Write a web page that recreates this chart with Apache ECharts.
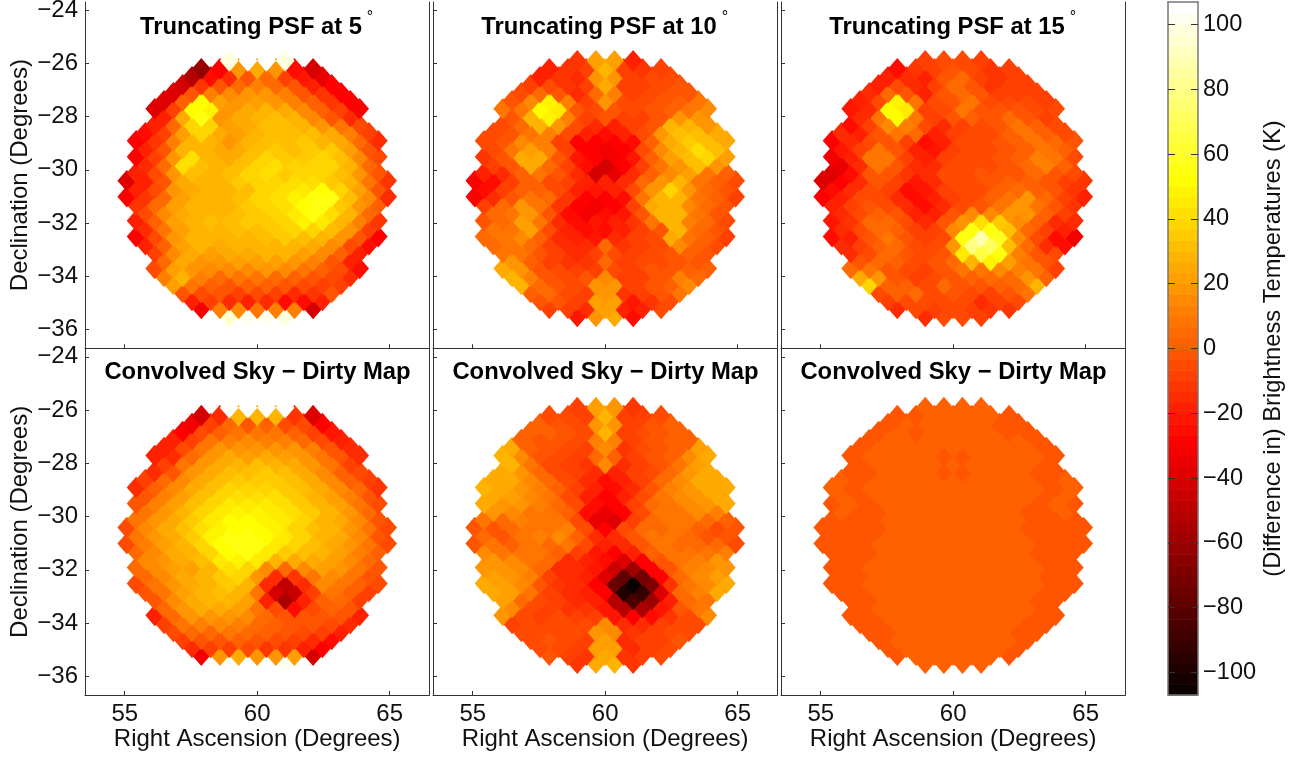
<!DOCTYPE html>
<html><head><meta charset="utf-8">
<style>html,body{margin:0;padding:0;background:#fff}#c{width:1306px;height:758px}</style>
<script src="https://cdn.jsdelivr.net/npm/echarts@6/dist/echarts.min.js"></script></head>
<body><div id="c"></div>
<script>
const ringDec=[-25.91,-26.21,-26.51,-26.81,-27.11,-27.41,-27.71,-28.01,-28.31,-28.61,-28.91,-29.21,-29.51,-29.81,-30.11,-30.41,-30.71,-31.01,-31.31,-31.61,-31.91,-32.21,-32.51,-32.81,-33.11,-33.41,-33.71,-34.01,-34.31,-34.61,-34.91,-35.21,-35.51];
const raCentre=60, raHalfStep=0.3516;
const xTicks=[55,60,65];
const yTicks=[-36,-34,-32,-30,-28,-26,-24];
const cbTicks=[-100,-80,-60,-40,-20,0,20,40,60,80,100];
const titles=['Truncating PSF at 5','Truncating PSF at 10','Truncating PSF at 15','Convolved Sky \u2212 Dirty Map','Convolved Sky \u2212 Dirty Map','Convolved Sky \u2212 Dirty Map'];
const trunc5=[
[98,106,106,97],
[-62,-28,18,25,18,-25,-42],
[-52,-25,-15,0,4,-8,-22,-34],
[-42,-12,-3,5,12,6,-3,-17,-29],
[-40,-3,12,15,17,18,12,0,-12,-28],
[-38,2,52,22,18,23,20,12,1,-12,-27],
[-38,-8,52,48,20,26,27,24,15,3,-10,-28],
[-18,24,56,20,26,30,31,27,15,0,-15],
[-20,6,37,40,22,26,32,31,28,18,7,-5],
[-24,-8,23,38,26,22,28,33,33,31,25,12,-8],
[-30,-12,12,28,28,20,28,32,33,34,30,24,6,-14],
[-18,-2,30,30,24,26,33,35,33,36,34,22,-2],
[-30,-10,19,42,30,26,31,38,35,35,38,31,14,-6],
[-14,6,42,32,30,33,39,41,37,39,37,27,5],
[-20,-6,18,31,30,32,38,42,35,37,39,31,17,-3],
[-38,-18,0,24,29,29,34,39,39,41,43,36,27,8,-12],
[-20,-4,17,26,30,30,33,38,41,46,51,37,22,0],
[-28,-13,6,23,29,30,32,38,41,47,54,54,32,16,-14],
[-13,5,23,28,28,30,34,38,42,52,55,35,20,1],
[-5,14,26,28,30,32,34,39,46,54,43,28,6],
[-18,1,23,28,33,32,34,35,40,48,45,30,12,-12],
[-14,8,23,30,30,32,32,34,39,40,32,18,-7],
[-27,-4,17,28,30,29,30,33,34,33,29,17,-3,-30],
[-20,1,22,27,26,28,30,30,30,26,16,-4,-26],
[-8,14,24,22,24,26,28,28,22,16,3,-18],
[5,24,20,20,22,23,22,18,12,0,-18],
[-5,22,20,15,15,16,17,14,8,3,-4,-26],
[13,27,12,6,10,10,6,3,0,-5,-14],
[22,8,1,-1,3,3,-3,-6,-8,-10],
[0,-6,-3,-8,-6,-8,-15,-13,-3],
[-18,-8,-15,-17,-14,-25,-24,-20],
[-32,12,16,10,13,12,-42],
[96,103,101,97]];
const trunc10=[
[-13,22,22,-18],
[-18,-12,-8,28,-8,-12,-7],
[-17,-13,-16,19,20,-8,-6,-6],
[-8,-6,-12,-10,26,-10,-8,-6,-3],
[-4,5,0,-15,5,12,-8,-5,-3,0],
[0,15,50,12,-8,17,-6,-6,-2,2,10],
[8,9,53,45,-2,-4,-3,-6,-3,2,10,15],
[-2,28,48,12,-9,-3,-9,-8,-2,20,20],
[-5,5,27,18,-5,-15,-17,-10,0,28,28,17],
[-6,0,8,12,-5,-20,-25,-20,-5,20,33,31,25],
[-6,-1,14,11,-8,-28,-30,-30,-25,3,26,36,33,25],
[-4,7,23,11,-10,-28,-33,-28,-5,14,28,42,31],
[-12,-3,26,26,0,-22,-30,-33,-22,2,22,33,40,23],
[-10,0,26,5,-8,-25,-42,-28,-8,10,20,33,20],
[-20,-14,3,8,-2,-15,-42,-36,-15,3,14,22,7,2],
[-29,-24,-10,2,-5,-10,-20,-20,-14,4,18,28,10,3,-5],
[-24,-10,1,3,-6,-18,-22,-17,-5,20,38,20,5,0],
[-28,-15,-1,7,4,-12,-27,-27,-24,10,28,28,8,2,-10],
[-8,6,17,10,-12,-28,-32,-27,-10,26,30,16,6,-3],
[5,10,20,0,-26,-32,-26,-23,0,28,30,10,-2],
[0,6,21,10,-16,-26,-23,-20,-12,10,30,12,5,-4],
[8,10,22,-4,-20,-26,-24,-17,-9,-1,28,5,-3],
[4,9,16,1,-15,-20,-22,-15,-10,-5,25,9,1,-8],
[5,10,5,-7,-15,-15,5,-12,-8,-4,14,2,-6],
[10,8,-2,-10,-15,-8,-5,-10,-6,-2,3,-3],
[20,2,-8,-12,-12,5,-10,-6,-4,0,-1],
[26,20,-3,-6,-8,-10,-6,-8,-3,0,1,2],
[28,13,-2,-6,-3,15,-8,-8,-3,12,5],
[30,4,-2,-5,17,20,-8,-3,3,14],
[3,6,-6,-7,20,-12,-10,-2,9],
[0,-3,-8,22,22,-23,-12,-5],
[-8,-8,-14,23,-18,-20,-5],
[-22,20,26,-24]];
const trunc15=[
[-8,-5,-5,-10],
[-24,-12,-10,-1,-6,-13,-9],
[-20,-15,-17,-3,5,-7,-12,-9],
[-18,-6,-14,-10,4,0,-12,-8,-8],
[-15,6,-3,-18,-3,5,-1,-9,-7,-8],
[-20,-6,50,9,-6,0,7,-6,-4,-6,-10],
[-22,-14,52,45,-8,-5,8,0,-2,-2,-5,-6],
[-15,10,53,7,-8,-3,2,-1,5,-2,-7],
[-25,-10,15,13,-6,-14,-8,-6,-2,8,1,-5],
[-14,-18,-2,7,5,-20,-9,-5,-4,2,10,2,-5],
[-27,-16,-4,-1,-9,-24,-20,-6,-5,-3,3,8,6,-3],
[-23,-8,9,-3,-18,-22,-8,-5,-5,-2,3,10,2],
[-33,-20,7,8,-10,-20,-10,-4,-4,-3,3,12,10,-5],
[-36,-15,10,0,-16,-14,-6,-4,-4,-1,6,12,3],
[-37,-25,-3,0,-12,-15,-6,-5,-3,-2,-1,4,-1,-4],
[-37,-30,-16,-3,-8,-22,-14,-6,-4,-3,2,1,-1,-7,-13],
[-26,-15,-5,-8,-24,-22,-9,-6,-5,3,6,3,-3,-12],
[-27,-18,-6,-4,-14,-26,-20,-8,-5,3,10,18,5,-7,-18],
[-18,-8,-1,-4,-14,-25,-14,-6,-2,10,20,10,-3,-12],
[-14,-6,2,-3,-18,-20,0,16,14,20,20,3,-8],
[-22,-12,5,5,-6,-15,-3,18,42,36,14,1,-14,-16],
[-16,-5,6,2,-8,-10,14,54,56,32,6,-8,-20],
[-25,-18,-2,7,-3,-10,-4,55,88,57,16,-6,-24,-32],
[-15,-10,3,6,-5,-5,18,80,72,32,4,-15,-26],
[-16,-4,6,0,-5,-3,44,66,56,12,0,-5],
[-2,6,1,-6,-3,4,30,48,22,8,-3],
[6,9,-1,-6,-8,-3,8,10,14,12,10,-8],
[26,20,-1,-7,-5,-3,3,6,4,17,3],
[38,1,2,-5,4,-2,-1,2,4,30],
[-4,3,6,-4,-1,-6,-10,-2,10],
[-10,-6,-5,-4,-6,-14,-10,-6],
[-14,-5,-9,-4,-8,-13,-11],
[-14,-4,-5,-9]];
const dirty5=[
[107,107,107,107],
[-42,-16,30,27,30,-12,-40],
[-32,-8,5,0,3,-6,-6,-30],
[-28,-5,2,8,8,8,2,-7,-22],
[-20,-8,8,12,14,13,11,5,-4,-17],
[-18,-5,9,18,17,19,19,18,11,0,-14],
[-17,-14,6,18,24,23,25,23,18,8,-3,-15],
[-10,8,18,26,30,31,29,25,17,8,-8],
[-15,0,17,26,32,33,34,31,25,16,3,-4],
[-8,4,15,26,32,36,36,36,32,26,14,2,-8],
[-15,2,15,24,33,38,39,38,36,31,25,15,4,-11],
[0,11,23,33,40,41,42,41,36,30,23,11,-2],
[-2,13,22,31,39,45,45,46,42,36,29,21,10,-4],
[10,20,29,38,45,49,49,46,42,35,27,18,6],
[10,18,26,34,46,52,52,50,44,38,30,24,14,-1],
[-4,15,25,32,42,50,53,52,47,39,33,27,18,8,-5],
[7,18,26,36,48,54,54,52,44,37,30,24,14,-1],
[-4,12,22,30,40,52,55,54,44,37,31,25,17,7,-5],
[6,16,24,28,38,52,54,46,36,32,28,22,12,2],
[14,20,26,32,44,50,44,28,24,26,23,14,6],
[4,14,22,22,28,42,40,14,5,14,22,19,8,0],
[5,16,24,30,36,38,18,-15,-12,8,16,8,-1],
[-4,8,20,26,30,36,30,-15,-50,-15,16,8,2,-6],
[0,10,22,28,33,30,10,-42,-44,-8,8,2,-8],
[0,15,24,28,29,23,-18,-54,-18,2,4,-8],
[6,17,25,25,23,10,-5,-26,-6,2,-2],
[-20,5,17,20,20,16,6,-3,-3,0,-3,-18],
[-8,8,13,14,13,6,2,-2,-3,-6,-14],
[-5,5,6,8,6,3,-2,-6,-10,-20],
[-8,-2,0,1,-1,-4,-7,-14,-25],
[-16,-10,-8,-5,-13,-11,-18,-28],
[-32,20,25,17,18,22,-42],
[105,107,104,102]];
const dirty10=[
[-10,23,20,-12],
[-5,-6,-8,28,-10,-8,-5],
[3,-2,-5,18,18,-8,-3,1],
[2,2,-2,-6,27,-9,-5,0,3],
[3,-2,-3,-6,12,12,-8,-2,1,3],
[25,2,-3,-5,-8,15,-12,-5,-1,2,22],
[30,16,-2,-4,-8,4,3,-10,-3,2,15,25],
[28,10,-4,-8,-12,15,-14,-8,-1,10,22],
[26,20,4,-5,-10,-15,-20,-10,-4,6,18,24],
[26,24,15,5,-6,-15,-24,-18,-8,4,16,24,26],
[27,25,20,12,2,-10,-18,-24,-15,0,12,20,24,26],
[26,22,14,10,-4,-18,-28,-20,-6,8,14,20,26],
[24,20,18,12,6,-6,-24,-28,-8,6,10,15,20,24],
[17,16,10,8,3,-26,-36,-28,-6,8,10,14,13],
[8,6,12,10,8,-5,-34,-38,-10,6,8,10,6,2],
[0,-1,5,9,8,12,-4,-30,-6,4,6,8,2,-6,-2],
[4,0,8,12,15,3,-14,-14,-2,10,8,5,0,0],
[0,8,3,8,6,10,-6,-18,-14,0,8,6,4,6,-4],
[14,10,8,7,2,-10,-22,-28,-18,3,8,8,10,12],
[18,14,10,4,-14,-20,-26,-38,-28,-3,8,12,18],
[20,18,14,6,-14,-16,-22,-44,-60,-30,0,12,16,20],
[22,18,12,-10,-15,-18,-40,-78,-72,-28,6,14,22],
[25,23,14,-2,-13,-16,-30,-75,-107,-68,-12,10,16,26],
[24,22,10,-8,-14,-18,-28,-98,-92,-40,4,12,24],
[22,5,-5,-10,-14,-18,-52,-85,-58,-20,4,10],
[16,-6,-9,-11,-13,-22,-52,-55,-22,-2,10],
[18,-4,-7,-6,-8,-10,-22,-30,-26,-12,-6,14],
[-8,-4,-6,-5,-5,14,-15,-15,-10,-6,-6],
[-6,-4,-4,-6,18,16,-13,-8,-6,-5],
[-6,-2,-5,-9,22,-14,-8,-7,-3],
[-6,-5,-8,22,22,-14,-7,-6],
[-3,-8,-12,24,-12,-10,-4],
[-12,26,28,-12]];
const dirty15=[
[1,1,1,1],
[-2,-2,1,1,1,1,-2],
[-2,1,1,1,1,1,-2,-2],
[-2,1,-2,1,1,1,1,-2,-2],
[-2,1,1,1,1,1,1,1,1,-2],
[-2,1,1,1,1,1,1,1,1,1,-2],
[-2,1,1,1,1,-2,-2,1,1,1,1,-2],
[-2,1,1,1,1,1,1,1,1,1,-2],
[-2,-2,1,1,1,-2,-2,1,1,1,-2,-2],
[1,-2,1,1,1,1,1,1,1,1,1,-2,1],
[1,-2,1,1,1,1,1,1,1,1,1,1,-2,1],
[1,-2,1,1,1,1,1,1,1,1,1,-2,1],
[-2,1,-2,1,1,1,1,1,1,1,1,-2,1,-2],
[1,-2,-2,1,1,1,1,1,1,1,-2,-2,1],
[-2,-2,-2,1,1,1,1,1,1,1,1,-2,-2,-2],
[-2,-2,-2,-2,1,1,1,1,1,1,1,-2,-2,-2,-2],
[-2,-2,-2,1,1,1,1,1,1,1,1,-2,-2,-2],
[-2,-2,-2,1,1,1,1,1,1,1,1,1,-2,-2,-2],
[-2,-2,-2,1,1,1,1,1,1,1,1,-2,-2,-2],
[-2,-2,1,1,1,1,1,1,1,1,1,-2,-2],
[-2,-2,1,1,1,1,1,1,1,1,1,1,-2,-2],
[-2,-2,1,1,1,1,1,1,1,1,1,-2,-2],
[-2,-2,1,1,1,1,1,1,1,1,1,1,-2,-2],
[-2,-2,1,1,1,1,1,1,1,1,1,-2,-2],
[-2,-2,1,1,1,1,1,1,1,1,-2,-2],
[-2,1,1,1,1,1,1,1,1,1,-2],
[-2,-2,1,1,1,1,1,1,1,1,-2,-2],
[-2,-2,1,1,1,1,1,1,1,-2,-2],
[-2,-2,1,1,1,1,1,1,-2,-2],
[-2,1,1,1,1,1,1,1,-2],
[-2,1,1,1,1,1,1,-2],
[-2,1,1,1,1,1,-2],
[1,1,1,1]];
const panels=[trunc5,trunc10,trunc15,dirty5,dirty10,dirty15];

const cMin=-107,cMax=107,N=64;
function hot(i){const n=3*N/8,m=N-2*n;
  const r=Math.min(1,(i+1)/n),g=Math.max(0,Math.min(1,(i+1-n)/n)),b=Math.max(0,(i+1-2*n)/m);
  return 'rgb('+[r,g,b].map(v=>Math.round(v*255)).join(',')+')';}
const step=(cMax-cMin)/N;
const bands=[];for(let i=0;i<N;i++)bands.push({min:cMin+i*step,max:cMin+(i+1)*step,color:hot(i)});

const font='"Liberation Sans",Helvetica,Arial,sans-serif';
const ink='#111',lineC='#333';
const colLeft=[85,433,781],rowTop=[2,348.8],W=344.4,H=346.2;
const fmt=v=>String(v).replace('-','\u2212');
const grid=[],xAxis=[],yAxis=[],series=[],title=[];
panels.forEach((rows,p)=>{
  const c=p%3,r=Math.floor(p/3);
  grid.push({left:colLeft[c],top:rowTop[r],width:W,height:H,outerBoundsMode:'none'});
  xAxis.push({type:'value',gridIndex:p,min:53.5,max:66.5,position:'bottom',
    splitLine:{show:false},
    axisLine:{show:true,onZero:false,lineStyle:{color:lineC,width:1}},
    axisTick:{show:true,inside:true,length:4,customValues:xTicks,lineStyle:{color:lineC}},
    axisLabel:{show:r===1,customValues:xTicks,fontFamily:font,fontSize:24,color:ink,margin:7},
    name:r===1?'Right Ascension (Degrees)':'',nameLocation:'middle',nameGap:32,
    nameTextStyle:{fontFamily:font,fontSize:24,color:ink}});
  yAxis.push({type:'value',gridIndex:p,min:-36.7,max:-23.7,position:'left',
    splitLine:{show:false},
    axisLine:{show:true,onZero:false,lineStyle:{color:lineC,width:1}},
    axisTick:{show:true,inside:true,length:4,customValues:yTicks,lineStyle:{color:lineC}},
    axisLabel:{show:c===0,customValues:yTicks,formatter:fmt,fontFamily:font,fontSize:24,color:ink,margin:7,padding:r===1?[5,0,0,0]:0},
    name:c===0?'Declination (Degrees)':'',nameLocation:'middle',nameGap:53,nameRotate:90,
    nameTextStyle:{fontFamily:font,fontSize:24,color:ink}});
  const data=[];
  for(let i=rows.length-1;i>=0;i--){
    const row=rows[i],mj=row.length-1;
    row.forEach((v,k)=>data.push([raCentre+(-mj+2*k)*raHalfStep,ringDec[i],v]));
  }
  series.push({type:'scatter',xAxisIndex:p,yAxisIndex:p,data,symbol:'diamond',symbolSize:[18.8,21.6],
    silent:true,animation:false,progressive:0,large:false,itemStyle:{opacity:1}});
  title.push({text:titles[p],left:colLeft[c]+(r===0?161:167.5),top:r===0?10:355.5,textAlign:'center',
    textStyle:{fontFamily:font,fontWeight:'bold',fontSize:23.8,color:'#000'}});
  if(r===0)title.push({text:'\u00b0',left:colLeft[c]+[280,287,287][c],top:5,textAlign:'center',
    textStyle:{fontFamily:font,fontWeight:'normal',fontSize:16,color:'#000'}});
});
panels.forEach((rows,p)=>{
  yAxis.push({type:'value',gridIndex:p,min:-36.7,max:-23.7,position:'right',splitLine:{show:false},
    axisLine:{show:true,onZero:false,lineStyle:{color:lineC,width:1}},axisTick:{show:false},axisLabel:{show:false}});
});
const cbGrid=grid.length;
grid.push({left:1168,top:2,width:30,height:693,outerBoundsMode:'none'});
xAxis.push({type:'value',gridIndex:cbGrid,min:0,max:1,position:'bottom',splitLine:{show:false},
  axisLine:{show:true,onZero:false,lineStyle:{color:'#777',width:1.5}},axisTick:{show:false},axisLabel:{show:false},z:6});
xAxis.push({type:'value',gridIndex:cbGrid,min:0,max:1,position:'top',splitLine:{show:false},
  axisLine:{show:true,onZero:false,lineStyle:{color:'#777',width:1.5}},axisTick:{show:false},axisLabel:{show:false},z:6});
const cbX=xAxis.length-2;
yAxis.push({type:'value',gridIndex:cbGrid,min:cMin,max:cMax,position:'right',splitLine:{show:false},z:6,
  axisLine:{show:true,onZero:false,lineStyle:{color:'#777',width:1.5}},
  axisTick:{show:true,inside:true,length:7,customValues:cbTicks,lineStyle:{color:'#333'}},
  axisLabel:{customValues:cbTicks,formatter:fmt,fontFamily:font,fontSize:23.6,color:ink,margin:5,padding:[9,0,0,0]},
  name:'(Difference in) Brightness Temperatures (K)',nameLocation:'middle',nameGap:63,nameRotate:90,
  nameTextStyle:{fontFamily:font,fontSize:23.7,color:ink}});
const cbY=yAxis.length-1;
yAxis.push({type:'value',gridIndex:cbGrid,min:cMin,max:cMax,position:'left',splitLine:{show:false},z:6,
  axisLine:{show:true,onZero:false,lineStyle:{color:'#777',width:1.5}},
  axisTick:{show:true,inside:true,length:7,customValues:cbTicks,lineStyle:{color:'#333'}},axisLabel:{show:false}});
series.push({type:'custom',xAxisIndex:cbX,yAxisIndex:cbY,silent:true,animation:false,
  data:bands.map(b=>[b.min,b.max]),encode:{y:[0,1]},
  renderItem:(params,api)=>{
    const a=api.coord([0,api.value(0)]),b=api.coord([1,api.value(1)]);
    return {type:'rect',shape:{x:a[0],y:b[1],width:b[0]-a[0],height:a[1]-b[1]+0.6},
      style:{fill:bands[params.dataIndex].color}};
  }});
const chart=echarts.init(document.getElementById('c'),null,{renderer:'canvas'});
chart.setOption({animation:false,backgroundColor:'#fff',title,grid,xAxis,yAxis,series,
  visualMap:[{type:'piecewise',show:false,dimension:2,seriesIndex:[0,1,2,3,4,5],pieces:bands}]});
</script></body></html>
